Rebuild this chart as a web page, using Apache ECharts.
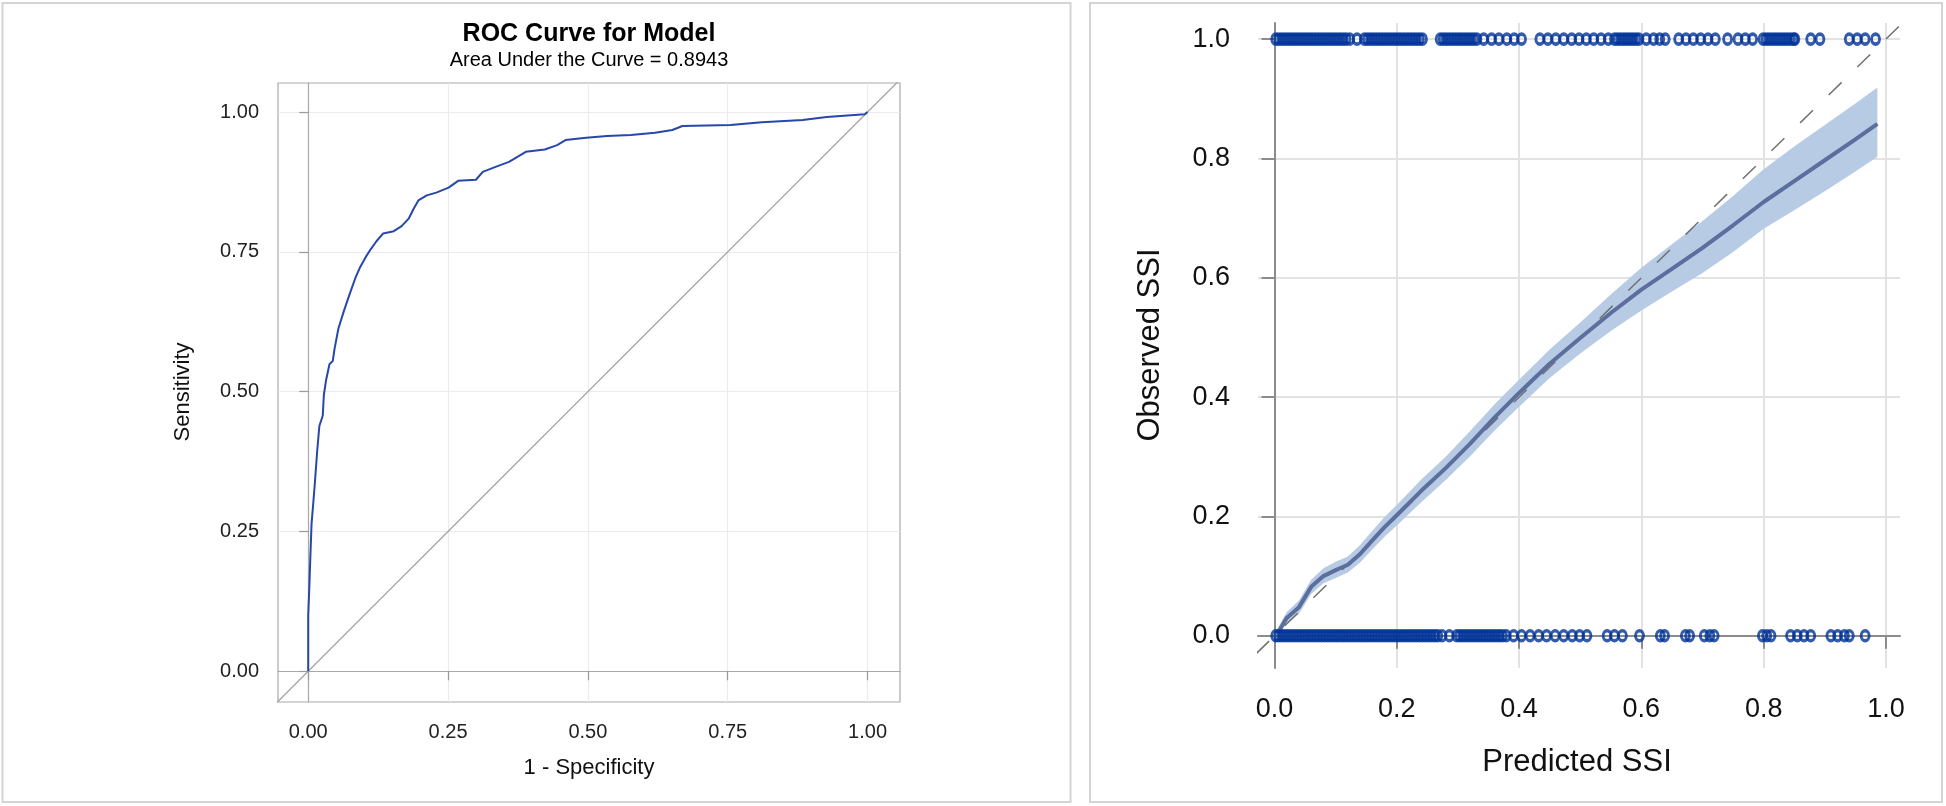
<!DOCTYPE html>
<html>
<head>
<meta charset="utf-8">
<script src="https://cdn.jsdelivr.net/npm/echarts@6/dist/echarts.min.js"></script>
<style>
html,body{margin:0;padding:0;background:#fff;}
#chart{width:1946px;height:806px;}
</style>
</head>
<body>
<div id="chart"></div>
<script>
// ---------- Left panel: ROC curve ----------
var rocTicks = [0, 0.25, 0.5, 0.75, 1];
var rocFpr = [0, 0.000, 0.002, 0.004, 0.006, 0.009, 0.012, 0.016, 0.020, 0.026, 0.028, 0.032, 0.038, 0.044, 0.047, 0.054, 0.064, 0.075, 0.085, 0.093, 0.103, 0.112, 0.122, 0.134, 0.153, 0.167, 0.180, 0.189, 0.197, 0.212, 0.229, 0.251, 0.268, 0.300, 0.312, 0.335, 0.359, 0.374, 0.389, 0.423, 0.445, 0.460, 0.497, 0.534, 0.577, 0.620, 0.651, 0.669, 0.755, 0.811, 0.884, 0.927, 0.995, 1.000];
var rocTpr = [0, 0.100, 0.150, 0.209, 0.264, 0.300, 0.338, 0.393, 0.439, 0.457, 0.494, 0.521, 0.549, 0.555, 0.576, 0.613, 0.645, 0.677, 0.705, 0.723, 0.741, 0.755, 0.769, 0.783, 0.787, 0.796, 0.810, 0.828, 0.842, 0.851, 0.856, 0.865, 0.877, 0.879, 0.893, 0.902, 0.911, 0.920, 0.929, 0.933, 0.941, 0.950, 0.954, 0.957, 0.959, 0.963, 0.968, 0.975, 0.977, 0.982, 0.986, 0.991, 0.996, 1.000];
var chanceX = [-0.06, 1.06];
var chanceY = [-0.06, 1.06];

// ---------- Right panel: calibration plot ----------
var calTicks = [0, 0.2, 0.4, 0.6, 0.8, 1.0];
var fitX  = [0.005,0.02,0.04,0.06,0.08,0.10,0.12,0.14,0.16,0.18,0.20,0.24,0.28,0.32,0.36,0.40,0.45,0.50,0.55,0.60,0.65,0.70,0.75,0.80,0.85,0.90,0.95,0.986];
var fitY  = [0.004,0.030,0.048,0.082,0.100,0.110,0.119,0.137,0.160,0.182,0.202,0.243,0.281,0.322,0.366,0.407,0.456,0.499,0.541,0.580,0.615,0.650,0.688,0.727,0.762,0.797,0.832,0.858];
var ciLow = [0.000,0.021,0.037,0.070,0.088,0.097,0.106,0.123,0.145,0.166,0.185,0.224,0.261,0.301,0.344,0.384,0.432,0.473,0.511,0.545,0.577,0.608,0.643,0.682,0.713,0.745,0.778,0.803];
var ciUp  = [0.012,0.040,0.059,0.094,0.113,0.124,0.133,0.152,0.176,0.199,0.219,0.262,0.300,0.343,0.388,0.429,0.480,0.525,0.572,0.617,0.656,0.695,0.737,0.782,0.820,0.856,0.892,0.919];
var refX = [-0.03, 1.03];
var refY = [-0.03, 1.03];
// predicted SSI of patients with observed SSI = 1
var predPos = [
  0.002,0.007,0.012,0.017,0.022,0.027,0.032,0.037,0.042,0.047,0.052,0.057,0.062,0.067,0.072,0.077,0.082,0.087,0.092,0.097,0.102,0.107,0.112,0.117,0.123,
  0.135,
  0.147,0.152,0.157,0.162,0.167,0.172,0.177,0.182,0.187,0.192,0.197,0.202,0.207,0.212,0.217,0.222,0.227,0.232,0.237,0.242,
  0.271,0.276,0.281,0.286,0.291,0.296,0.301,0.306,0.311,0.316,0.321,0.326,0.331,0.342,
  0.355,0.367,0.380,0.392,0.404,
  0.434,0.447,0.460,0.473,0.486,0.498,
  0.510,0.522,0.534,0.546,0.556,0.561,0.566,0.571,0.576,0.581,0.586,0.591,0.596,0.608,0.620,0.630,0.639,
  0.661,0.673,0.685,0.697,0.709,0.721,
  0.741,
  0.758,0.770,0.782,
  0.799,0.804,0.809,0.814,0.819,0.824,0.829,0.834,0.839,0.844,0.849,0.851,
  0.877,0.892,
  0.940,0.953,0.966,0.983];
// predicted SSI of patients with observed SSI = 0
var predNeg = [
  0.002,0.007,0.012,0.017,0.022,0.027,0.032,0.037,0.042,0.047,0.052,0.057,0.062,0.067,0.072,0.077,0.082,0.087,0.092,0.097,0.102,0.107,0.112,0.117,0.122,0.127,0.132,0.137,0.142,0.147,
  0.152,0.157,0.162,0.167,0.172,0.177,0.182,0.187,0.192,0.197,0.202,0.207,0.212,0.217,0.222,0.227,0.232,0.237,0.242,0.247,0.252,0.257,0.262,0.267,0.274,
  0.286,
  0.298,0.303,0.308,0.313,0.318,0.323,0.328,0.333,0.338,0.343,0.348,0.353,0.358,0.363,0.368,0.373,0.379,
  0.391,0.404,0.418,0.432,0.445,0.459,0.473,
  0.487,0.499,0.511,
  0.544,0.556,0.569,
  0.597,
  0.631,0.638,
  0.672,0.679,
  0.703,0.712,0.719,
  0.798,0.805,0.812,
  0.844,0.855,0.866,0.877,
  0.910,0.921,0.932,0.940,
  0.966];

function pairs(xs, ys) { return xs.map(function (x, i) { return [x, ys[i]]; }); }
function row(xs, y) { return xs.map(function (x) { return [x, y]; }); }

var FONT = "'Liberation Sans', Arial, Helvetica, sans-serif";
var chart = echarts.init(document.getElementById('chart'), null, {renderer: 'canvas'});

function bandRenderItem(params, api) {
  var pts = [];
  for (var i = 0; i < fitX.length; i++) pts.push(api.coord([fitX[i], ciUp[i]]));
  for (var j = fitX.length - 1; j >= 0; j--) pts.push(api.coord([fitX[j], ciLow[j]]));
  return {type: 'polygon', shape: {points: pts}, style: {fill: '#b7cbe5', stroke: 'none'}};
}

var markerStyle = {color: 'rgba(0,0,0,0)', borderColor: '#003399', borderWidth: 3.2};

var option = {
  animation: false,
  backgroundColor: '#ffffff',
  textStyle: {fontFamily: FONT},
  grid: [
    {left: 278, top: 83, width: 622, height: 619, show: true, borderColor: '#a9a9a9', borderWidth: 1.2, backgroundColor: 'transparent'},
    {left: 1258, top: 23, width: 642, height: 645, show: false}
  ],
  xAxis: [
    {gridIndex: 0, type: 'value', min: -0.054, max: 1.058,
     axisLine: {show: true, lineStyle: {color: '#a9a9a9', width: 1.2}},
     axisTick: {show: true, length: 9, customValues: rocTicks, lineStyle: {color: '#9a9a9a', width: 1.2}},
     axisLabel: {show: true, customValues: rocTicks, margin: 20, color: '#222', fontSize: 20, fontFamily: FONT,
                 formatter: function (v) { return v.toFixed(2); }},
     splitLine: {show: true, lineStyle: {color: '#ebebeb', width: 1.2}}},
    {gridIndex: 1, type: 'value', min: -0.027, max: 1.023,
     axisLine: {show: true, lineStyle: {color: '#8c8c8c', width: 2}},
     axisTick: {show: true, length: 13, customValues: calTicks, lineStyle: {color: '#8c8c8c', width: 2}},
     axisLabel: {show: true, customValues: calTicks, margin: 28, color: '#111', fontSize: 27, fontFamily: FONT,
                 formatter: function (v) { return v.toFixed(1); }},
     splitLine: {show: true, lineStyle: {color: '#e2e2e2', width: 2}}}
  ],
  yAxis: [
    {gridIndex: 0, type: 'value', min: -0.055, max: 1.052,
     axisLine: {show: true, lineStyle: {color: '#a9a9a9', width: 1.2}},
     axisTick: {show: true, length: 9, customValues: rocTicks, lineStyle: {color: '#9a9a9a', width: 1.2}},
     axisLabel: {show: true, customValues: rocTicks, margin: 19, color: '#222', fontSize: 20, fontFamily: FONT,
                 formatter: function (v) { return v.toFixed(2); }},
     splitLine: {show: true, lineStyle: {color: '#ebebeb', width: 1.2}}},
    {gridIndex: 1, type: 'value', min: -0.054, max: 1.027,
     axisLine: {show: true, lineStyle: {color: '#8c8c8c', width: 2}},
     axisTick: {show: true, length: 13, customValues: calTicks, lineStyle: {color: '#8c8c8c', width: 2}},
     axisLabel: {show: true, customValues: calTicks, margin: 28, color: '#111', fontSize: 27, fontFamily: FONT,
                 formatter: function (v) { return v.toFixed(1); }},
     splitLine: {show: true, lineStyle: {color: '#e2e2e2', width: 2}}}
  ],
  series: [
    {name: 'Chance', type: 'line', xAxisIndex: 0, yAxisIndex: 0, data: pairs(chanceX, chanceY),
     symbol: 'none', silent: true, lineStyle: {color: '#a3a3a3', width: 1.3}, z: 2},
    {name: 'ROC', type: 'line', xAxisIndex: 0, yAxisIndex: 0, data: pairs(rocFpr, rocTpr),
     symbol: 'none', lineStyle: {color: '#2747aa', width: 2}, z: 3},

    {name: 'CI band', type: 'custom', xAxisIndex: 1, yAxisIndex: 1, data: [[0.5, 0.5]],
     renderItem: bandRenderItem, silent: true, clip: true, z: 2},
    {name: 'Ideal', type: 'line', xAxisIndex: 1, yAxisIndex: 1, data: pairs(refX, refY),
     symbol: 'none', silent: true, lineStyle: {color: '#707070', width: 1.5, type: [18, 22]}, z: 3},
    {name: 'Fit', type: 'line', xAxisIndex: 1, yAxisIndex: 1, data: pairs(fitX, fitY),
     symbol: 'none', lineStyle: {color: '#5b6e9d', width: 4}, z: 4},
    {name: 'SSI = 1', type: 'scatter', xAxisIndex: 1, yAxisIndex: 1, data: row(predPos, 1),
     symbol: 'circle', symbolSize: [8, 10], itemStyle: markerStyle, z: 5},
    {name: 'SSI = 0', type: 'scatter', xAxisIndex: 1, yAxisIndex: 1, data: row(predNeg, 0),
     symbol: 'circle', symbolSize: [8, 10], itemStyle: markerStyle, z: 5}
  ],
  graphic: [
    {type: 'rect', shape: {x: 2.5, y: 3, width: 1068, height: 799}, style: {fill: 'none', stroke: '#d4d4d4', lineWidth: 2}, silent: true, z: -1},
    {type: 'rect', shape: {x: 1090, y: 3, width: 852, height: 799}, style: {fill: 'none', stroke: '#d4d4d4', lineWidth: 2}, silent: true, z: -1},
    {type: 'text', x: 589, y: 34.5, style: {text: 'ROC Curve for Model', fill: '#000', font: 'bold 25px ' + FONT, textAlign: 'center', textVerticalAlign: 'middle'}},
    {type: 'text', x: 589, y: 60, style: {text: 'Area Under the Curve = 0.8943', fill: '#000', font: '20px ' + FONT, textAlign: 'center', textVerticalAlign: 'middle'}},
    {type: 'text', x: 589, y: 768, style: {text: '1 - Specificity', fill: '#111', font: '22px ' + FONT, textAlign: 'center', textVerticalAlign: 'middle'}},
    {type: 'text', x: 183, y: 392, rotation: Math.PI / 2, style: {text: 'Sensitivity', fill: '#111', font: '22px ' + FONT, textAlign: 'center', textVerticalAlign: 'middle'}},
    {type: 'text', x: 1577, y: 762, style: {text: 'Predicted SSI', fill: '#111', font: '31px ' + FONT, textAlign: 'center', textVerticalAlign: 'middle'}},
    {type: 'text', x: 1150, y: 345, rotation: Math.PI / 2, style: {text: 'Observed SSI', fill: '#111', font: '31px ' + FONT, textAlign: 'center', textVerticalAlign: 'middle'}}
  ]
};
chart.setOption(option);
</script>
</body>
</html>
